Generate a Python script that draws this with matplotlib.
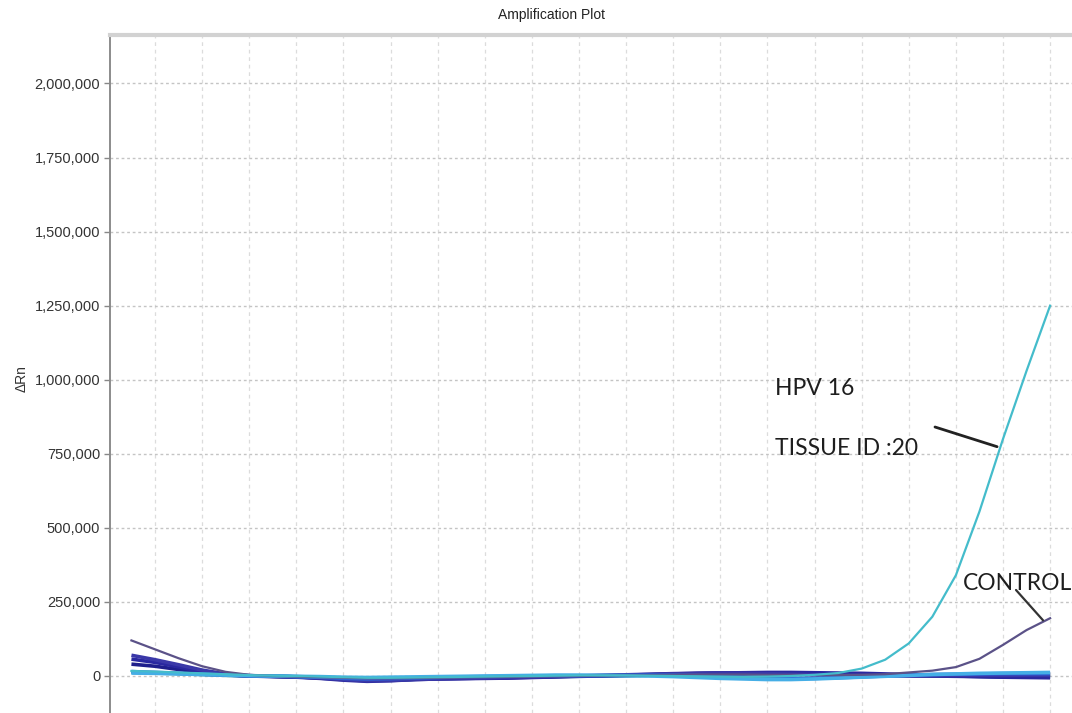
import matplotlib
matplotlib.use("Agg")
import matplotlib.pyplot as plt
from matplotlib.ticker import FuncFormatter

# qPCR amplification curves, delta Rn per cycle (values in thousands)
cycles = list(range(1, 41))

hpv16 = [17, 15, 12, 9, 6, 3, 1, 0, -2, -4, -6, -6, -5, -4, -3, -2, -1, 0, 1, 2,
         2, 2, 1, 0, -1, -2, -3, -2, 0, 4, 10, 25, 55, 110, 200, 340, 555, 800, 1030, 1250]
control = [120, 90, 60, 33, 14, 4, 0, -2, -4, -6, -8, -8, -7, -6, -5, -4, -3, -2, -1, 0,
           1, 2, 3, 4, 5, 5, 5, 4, 4, 3, 3, 4, 6, 12, 18, 30, 58, 105, 155, 195]
well_a = [70, 55, 38, 20, 7, 1, -1, -3, -7, -12, -16, -15, -12, -10, -8, -7, -5, -3, -1, 0,
          2, 4, 6, 8, 9, 10, 9, 8, 6, 4, 3, 2, 1, 0, 0, 1, 2, 2, 3, 3]
well_b = [57, 46, 31, 15, 5, 0, -2, -4, -8, -14, -18, -16, -12, -10, -9, -8, -7, -5, -3, -1,
          0, 2, 4, 6, 8, 10, 11, 12, 12, 11, 10, 9, 7, 5, 2, 0, -2, -4, -5, -6]
well_c = [40, 33, 22, 12, 4, 0, -1, -3, -6, -10, -14, -13, -11, -9, -8, -7, -6, -4, -2, 0,
          1, 3, 5, 7, 9, 10, 10, 10, 9, 8, 6, 5, 3, 1, 0, -1, -2, -3, -4, -4]
well_d = [15, 12, 9, 6, 3, 1, 0, -2, -4, -8, -10, -9, -7, -5, -3, -2, -1, 0, 1, 1,
          2, 2, 3, 3, 2, 0, -3, -6, -8, -8, -6, -3, 0, 3, 5, 6, 7, 8, 8, 8]
well_e = [10, 9, 7, 5, 3, 1, 0, -1, -2, -4, -5, -4, -3, -2, -1, 0, 1, 2, 3, 3,
          2, 1, 0, -2, -5, -8, -10, -12, -12, -10, -7, -4, -1, 2, 5, 7, 9, 10, 11, 12]
well_f = [12, 10, 8, 5, 2, 0, -1, -3, -6, -11, -15, -14, -11, -8, -6, -5, -4, -3, -2, -1,
          0, 1, 2, 4, 6, 7, 8, 8, 7, 6, 5, 4, 3, 2, 1, 0, -1, -2, -2, -3]

baseline_wells = [well_f, well_c, well_b, well_a, well_d, well_e]
baseline_colors = ["#3a9aa0", "#1f1f8c", "#2a28a0", "#3a38a8", "#2c62d6", "#45aee6"]

yticks = [0, 250, 500, 750, 1000, 1250, 1500, 1750, 2000]
xgrid = list(range(2, 41, 2))

# points the two label pointers land on (cycle, delta Rn)
hpv_point = (37.75, 774000)
ctrl_point = (39.7, 188000)

fig = plt.figure(figsize=(10.72, 7.13), dpi=100)
ax = fig.add_axes([110 / 1072, 0, 962 / 1072, 678 / 713])

for vals, col in zip(baseline_wells, baseline_colors):
    ax.plot(cycles, [v * 1000 for v in vals], color=col, lw=2.6, solid_capstyle="butt")
ax.plot(cycles, [v * 1000 for v in control], color="#5b5288", lw=1.6)
ax.plot(cycles, [v * 1000 for v in hpv16], color="#44bccb", lw=1.6)

ax.set_xlim(0.09, 40.93)
ax.set_ylim(-124900, 2163700)
ax.set_yticks([v * 1000 for v in yticks])
ax.yaxis.set_major_formatter(FuncFormatter(lambda v, p: f"{int(v):,}"))
ax.set_xticks(xgrid)
ax.tick_params(axis="x", length=0, labelbottom=False)
ax.tick_params(axis="y", length=4, width=1, color="#888888", pad=3,
               labelsize=10.5, labelcolor="#333333")
for lab in ax.get_yticklabels():
    lab.set_family(["Liberation Sans", "DejaVu Sans"])

ax.grid(axis="y", color="#c4c4c4", ls=(0, (2, 2)), lw=1)
ax.grid(axis="x", color="#dcdcdc", ls=(0, (3, 3)), lw=0.9)
ax.set_axisbelow(True)

for s in ["right", "bottom"]:
    ax.spines[s].set_visible(False)
ax.spines["left"].set_color("#8c8c8c")
ax.spines["left"].set_linewidth(1.4)
ax.spines["top"].set_color("#d2d2d2")
ax.spines["top"].set_linewidth(3)

fig.text(552 / 1072, 1 - 15 / 713, "Amplification Plot", ha="center", va="center",
         fontsize=10, color="#222222", family=["Liberation Sans", "DejaVu Sans"])
fig.text(22 / 1072, 1 - 379 / 713, "ΔRn", ha="center", va="center", rotation=90,
         fontsize=10, color="#333333", family=["Liberation Sans", "DejaVu Sans"])

# hand-written labels with pointer lines
label_font = dict(fontsize=16.5, color="#1e1e1e", family=["Lato", "DejaVu Sans"])
fig.text(775 / 1072, 1 - 395 / 713, "HPV 16", ha="left", va="baseline", **label_font)
fig.text(775 / 1072, 1 - 455 / 713, "TISSUE ID :20", ha="left", va="baseline", **label_font)
fig.text(963 / 1072, 1 - 590 / 713, "CONTROL", ha="left", va="baseline", **label_font)

ax.annotate("", xy=hpv_point, xytext=(935 / 1072, 1 - 427 / 713),
            textcoords="figure fraction",
            arrowprops=dict(arrowstyle="-", color="#222222", lw=2, shrinkA=0, shrinkB=0))
ax.annotate("", xy=ctrl_point, xytext=(1016 / 1072, 1 - 590 / 713),
            textcoords="figure fraction",
            arrowprops=dict(arrowstyle="-", color="#333333", lw=1.6, shrinkA=0, shrinkB=0))

fig.savefig("out.png", dpi=100)
